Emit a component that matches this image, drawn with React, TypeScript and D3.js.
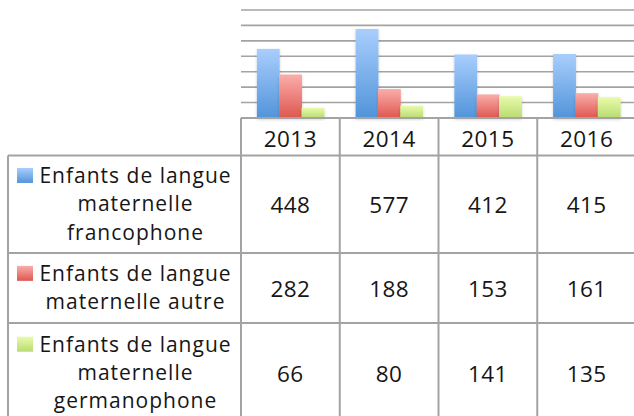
import React from "react";
import * as d3 from "d3";

const years = ["2013", "2014", "2015", "2016"];
const seriesNames = [
  ["Enfants de langue", "maternelle", "francophone"],
  ["Enfants de langue", "maternelle autre"],
  ["Enfants de langue", "maternelle", "germanophone"],
];
const francophone = [448, 577, 412, 415];
const autre = [282, 188, 153, 161];
const germanophone = [66, 80, 141, 135];
const yTicks = [100, 200, 300, 400, 500, 600, 700, 800];

const series = [francophone, autre, germanophone];
const gradients = [
  ["#a9cefd", "#5194da"],
  ["#faaeab", "#de574f"],
  ["#e8fbab", "#b9db70"],
];

const W = 634;
const H = 416;
const FONT = "'Open Sans', Lato, sans-serif";

export default function App() {
  const left = 241;
  const right = 636;
  const baseY = 118;
  const headerBottom = 155.5;
  const rowBounds = [155.5, 253, 323, 423];
  const x0 = d3.scaleBand<string>().domain(years).range([left, right]).padding(0);
  const idx = d3.range(series.length).map(String);
  const x1 = d3
    .scaleBand<string>()
    .domain(idx)
    .range([0, x0.bandwidth()])
    .paddingInner(0)
    .paddingOuter(0.71);
  const y = d3.scaleLinear().domain([0, 800]).range([baseY, baseY - 800 * 0.1543]);
  const grid = "#a3a3a3";
  const colLines = years.map((yr) => x0(yr)!).concat([right]);

  return (
    <svg
      width={W}
      height={H}
      style={{ position: "absolute", left: 0, top: 0, display: "block" }}
      fontFamily={FONT}
    >
      <defs>
        {gradients.map((g, i) => (
          <linearGradient key={i} id={`g${i}`} x1="0" y1="0" x2="0" y2="1">
            <stop offset="0%" stopColor={g[0]} />
            <stop offset="100%" stopColor={g[1]} />
          </linearGradient>
        ))}
        <filter id="sh" x="-20%" y="-20%" width="140%" height="140%">
          <feDropShadow dx="0" dy="1.5" stdDeviation="1.5" floodColor="#000" floodOpacity="0.18" />
        </filter>
      </defs>
      <rect x={0} y={0} width={W} height={H} fill="#fff" />
      {yTicks.map((t) => (
        <line key={t} x1={left} x2={W} y1={y(t)} y2={y(t)} stroke={grid} strokeWidth={1.6} />
      ))}
      {years.map((yr, c) =>
        series.map((s, k) => (
          <rect
            key={`${yr}-${k}`}
            x={x0(yr)! + x1(String(k))!}
            y={y(s[c])}
            width={x1.bandwidth() + 0.5}
            height={baseY - y(s[c])}
            fill={`url(#g${k})`}
            filter="url(#sh)"
          />
        ))
      )}
      <line x1={left} x2={W} y1={baseY} y2={baseY} stroke={grid} strokeWidth={2} />
      <line x1={8} x2={W} y1={headerBottom} y2={headerBottom} stroke={grid} strokeWidth={2} />
      {colLines.map((cx, i) => (
        <line key={i} x1={cx} x2={cx} y1={baseY} y2={H} stroke={grid} strokeWidth={2} />
      ))}
      {years.map((yr) => (
        <text
          key={yr}
          x={x0(yr)! + x0.bandwidth() / 2}
          y={146.5}
          textAnchor="middle"
          fontSize={22.5}
          letterSpacing={0.4}
          fill="#161616"
        >
          {yr}
        </text>
      ))}
      <line x1={8} x2={8} y1={headerBottom} y2={H} stroke={grid} strokeWidth={2} />
      {rowBounds.slice(1, 3).map((ry, i) => (
        <line key={i} x1={8} x2={W} y1={ry} y2={ry} stroke={grid} strokeWidth={2} />
      ))}
      {series.map((s, k) => {
        const top = rowBounds[k];
        const bot = rowBounds[k + 1];
        const mid = (top + bot) / 2;
        const lines = seriesNames[k];
        const lh = 28.3;
        const firstBase = mid + 7 - ((lines.length - 1) * lh) / 2;
        return (
          <g key={k}>
            <rect x={17} y={firstBase - 15} width={16} height={15} fill={`url(#g${k})`} />
            {lines.map((ln, j) => (
              <text
                key={j}
                x={135.5}
                y={firstBase + j * lh}
                textAnchor="middle"
                fontSize={21}
                letterSpacing={1}
                fill="#161616"
              >
                {ln}
              </text>
            ))}
            {years.map((yr, c) => (
              <text
                key={yr}
                x={x0(yr)! + x0.bandwidth() / 2}
                y={mid + 9}
                textAnchor="middle"
                fontSize={22.5}
                letterSpacing={0.4}
                fill="#161616"
              >
                {s[c]}
              </text>
            ))}
          </g>
        );
      })}
    </svg>
  );
}
